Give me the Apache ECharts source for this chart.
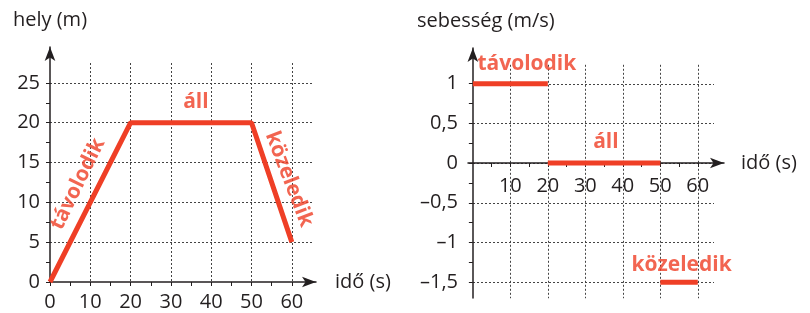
<!DOCTYPE html>
<html>
<head>
<meta charset="utf-8">
<script src="https://cdn.jsdelivr.net/npm/echarts@6/dist/echarts.min.js"></script>
<style>
  html, body { margin: 0; padding: 0; background: #fff; }
  #chart { width: 810px; height: 313px; }
</style>
</head>
<body>
<div id="chart"></div>
<script>
// hely-idő grafikon (bal oldal)
const helyPontok = [[0, 0], [20, 20], [50, 20], [60, 5]];
const helyXCimkek = [0, 10, 20, 30, 40, 50, 60];
const helyXJelek = [0, 5, 10, 15, 20, 25, 30, 35, 40, 45, 50, 55, 60];
const helyYCimkek = [0, 5, 10, 15, 20, 25];
const helyYJelek = [0, 2.5, 5, 7.5, 10, 12.5, 15, 17.5, 20, 22.5, 25];
// feliratok: [x, y, szöveg, elforgatás]
const helyFeliratok = [
  [6.9, 12.3, 'távolodik', 64],
  [36.2, 22.6, 'áll', 0],
  [59.3, 12.9, 'közeledik', -69]
];

// sebesség-idő grafikon (jobb oldal)
const sebTavolodik = [[0, 1], [20, 1]];
const sebAll = [[20, 0], [50, 0]];
const sebKozeledik = [[50, -1.5], [60, -1.5]];
const sebXCimkek = [10, 20, 30, 40, 50, 60];
const sebXJelek = [5, 10, 15, 20, 25, 30, 35, 40, 45, 50, 55, 60];
const sebYCimkek = [-1.5, -1, -0.5, 0, 0.5, 1];
const sebYJelek = [-1.5, -1.25, -1, -0.75, -0.5, -0.25, 0, 0.25, 0.5, 0.75, 1];
const sebFeliratok = [
  [14.4, 1.25, 'távolodik', 0],
  [35.5, 0.26, 'áll', 0],
  [55.7, -1.29, 'közeledik', 0]
];

const PIROS = '#ef3f26';
const SOTET = '#231f20';
const FONT = 'Open Sans';

let myChart = echarts.init(document.getElementById('chart'));

const tengely = {
  show: true,
  lineStyle: { color: SOTET, width: 1.5 }
};
const racs = {
  show: true,
  showMinLine: false,
  showMaxLine: false,
  lineStyle: { color: '#444', width: 1, type: [2, 2] }
};
const rejtett = {
  axisLine: { show: false },
  axisTick: { show: false },
  axisLabel: { show: false }
};
const szoveg = { color: SOTET, fontSize: 20, fontFamily: FONT };

function feliratSorozat(lista, xi, yi) {
  return lista.map(f => ({
    type: 'scatter',
    xAxisIndex: xi,
    yAxisIndex: yi,
    silent: true,
    symbolSize: 1,
    itemStyle: { color: 'rgba(0,0,0,0)' },
    z: 5,
    data: [[f[0], f[1]]],
    label: {
      show: true,
      position: 'inside',
      formatter: f[2],
      rotate: f[3],
      color: PIROS,
      fontSize: 21,
      fontWeight: 'bold',
      fontFamily: FONT
    }
  }));
}

function vonal(adat, xi, yi) {
  return {
    type: 'line',
    xAxisIndex: xi,
    yAxisIndex: yi,
    data: adat,
    symbol: 'none',
    silent: true,
    z: 4,
    lineStyle: { color: PIROS, width: 5, cap: 'butt' }
  };
}

const sebYFormat = v => String(v).replace('.', ',').replace('-', '\u2013');

const racsKeret = { outerBoundsMode: 'none', containLabel: false };

myChart.setOption({
  animation: false,
  backgroundColor: '#fff',
  textStyle: { fontFamily: FONT },
  grid: [
    { left: 50, top: 47, width: 266, height: 235, ...racsKeret },
    { left: 50, top: 63, width: 262, height: 219, ...racsKeret },
    { left: 468, top: 48, width: 256, height: 250, ...racsKeret },
    { left: 473, top: 64.8, width: 241, height: 217.6, ...racsKeret },
    { left: 473, top: 64.8, width: 241, height: 233.5, ...racsKeret }
  ],
  xAxis: [
    {
      gridIndex: 0, type: 'value', min: 0, max: 66,
      axisLine: Object.assign({ symbol: ['none', 'arrow'], symbolSize: [8, 14] }, tengely),
      axisTick: { show: true, length: 4, customValues: helyXJelek, lineStyle: { color: SOTET } },
      axisLabel: { customValues: helyXCimkek, margin: 10, ...szoveg },
      splitLine: { show: false },
      name: 'idő (s)', nameLocation: 'end', nameGap: 19, nameTextStyle: szoveg
    },
    { gridIndex: 1, type: 'value', min: 0, max: 65, interval: 10, ...rejtett, splitLine: racs },
    {
      // a tengely a 0 sebességnél fut: a rács aljától 135 px-re
      gridIndex: 2, type: 'value', min: -1.3, max: 67, position: 'bottom', offset: -135,
      axisLine: Object.assign({ onZero: false, symbol: ['none', 'arrow'], symbolSize: [8, 14] }, tengely),
      axisTick: { show: true, length: 4, customValues: sebXJelek, lineStyle: { color: SOTET } },
      axisLabel: { customValues: sebXCimkek, margin: 13, ...szoveg },
      splitLine: { show: false },
      name: 'idő (s)', nameLocation: 'end', nameGap: 17, nameTextStyle: szoveg
    },
    { gridIndex: 3, type: 'value', min: 0, max: 64.3, ...rejtett, splitLine: { show: false } },
    { gridIndex: 4, type: 'value', min: 0, max: 64.3, interval: 10, ...rejtett, splitLine: racs }
  ],
  yAxis: [
    {
      gridIndex: 0, type: 'value', min: 0, max: 29.5,
      axisLine: Object.assign({ symbol: ['none', 'arrow'], symbolSize: [8, 14] }, tengely),
      axisTick: { show: true, length: 4, customValues: helyYJelek, lineStyle: { color: SOTET } },
      axisLabel: { customValues: helyYCimkek, margin: 10, ...szoveg },
      splitLine: { show: false },
      name: 'hely (m)', nameLocation: 'end', nameGap: 17, nameTextStyle: szoveg
    },
    { gridIndex: 1, type: 'value', min: 0, max: 27.5, interval: 5, ...rejtett, splitLine: racs },
    {
      gridIndex: 2, type: 'value', min: -1.7, max: 1.45,
      axisLine: Object.assign({ onZero: true, symbol: ['none', 'arrow'], symbolSize: [8, 14] }, tengely),
      axisTick: { show: true, length: 4, customValues: sebYJelek, lineStyle: { color: SOTET } },
      axisLabel: { customValues: sebYCimkek, margin: 10, formatter: sebYFormat, ...szoveg },
      splitLine: { show: false },
      name: 'sebesség (m/s)', nameLocation: 'end', nameGap: 17,
      nameTextStyle: Object.assign({ padding: [0, 0, 0, 26] }, szoveg)
    },
    {
      gridIndex: 3, type: 'value', min: -1.5, max: 1.24, interval: 0.5, ...rejtett,
      splitLine: Object.assign({}, racs, { showMinLine: true })
    },
    { gridIndex: 4, type: 'value', min: -1.7, max: 1.24, ...rejtett, splitLine: { show: false } }
  ],
  series: [
    vonal(helyPontok, 0, 0),
    vonal(sebTavolodik, 2, 2),
    vonal(sebAll, 2, 2),
    vonal(sebKozeledik, 2, 2),
    ...feliratSorozat(helyFeliratok, 0, 0),
    ...feliratSorozat(sebFeliratok, 2, 2)
  ]
});
</script>
</body>
</html>
